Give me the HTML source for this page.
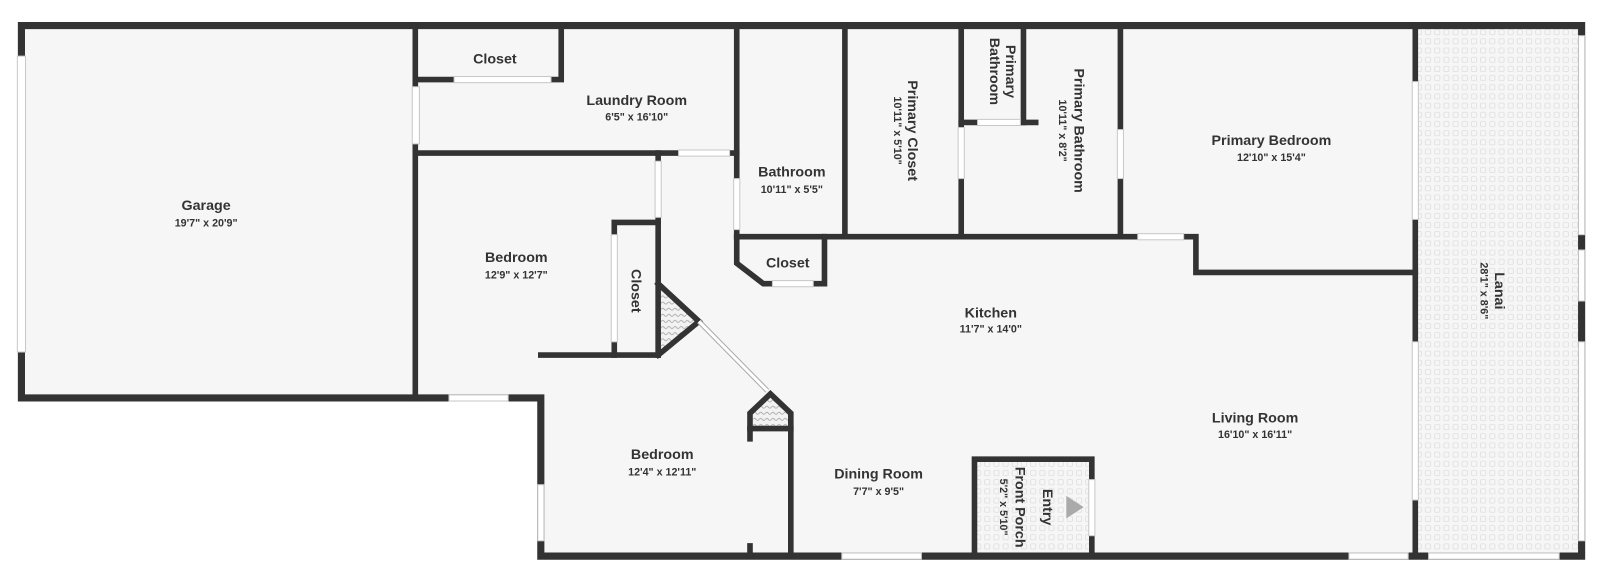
<!DOCTYPE html>
<html><head><meta charset="utf-8"><style>
html,body{margin:0;padding:0;background:#fff;width:1600px;height:580px;overflow:hidden}
svg{display:block}
text{font-family:"Liberation Sans","DejaVu Sans",sans-serif;fill:#333;text-anchor:middle}
.n{font-size:14px;font-weight:bold}
.d{font-size:10.5px;font-weight:bold}
</style></head><body>
<svg width="1600" height="580" viewBox="0 0 1600 580" xmlns="http://www.w3.org/2000/svg">
<defs>
<pattern id="tile" width="9" height="9" patternUnits="userSpaceOnUse">
<rect width="9" height="9" fill="#f6f6f6"/>
<rect x="2" y="2" width="5" height="5" rx="1" fill="none" stroke="#dedede" stroke-width="0.8"/>
</pattern>
<pattern id="hatch" width="6" height="6" patternUnits="userSpaceOnUse">
<rect width="6" height="6" fill="#f2f2f2"/>
<path d="M0 3 Q1.5 1 3 3 T6 3" fill="none" stroke="#999" stroke-width="0.7"/>
</pattern>
</defs>
<g transform="scale(1.0204)">
<rect x="21" y="25" width="1366" height="365" fill="#f6f6f6"/>
<rect x="530" y="348" width="1020" height="197" fill="#f6f6f6"/>
<rect x="1387" y="25" width="163" height="520" fill="url(#tile)"/>
<rect x="955" y="452" width="113" height="93" fill="url(#tile)"/>
<polygon points="645,278 685,315 645,348" fill="url(#hatch)"/>
<polygon points="738,405 755,388 773,405 773,418 738,418" fill="url(#hatch)"/>
<g stroke="#333" stroke-width="7" fill="none" stroke-linecap="square">
<path d="M21 25 H1550 V545 H530 V390 H21 Z"/>
</g>
<g stroke="#333" stroke-width="5.5" fill="none" stroke-linecap="square">
<line x1="407" y1="25" x2="407" y2="390"/>
<path d="M407 78 H550 V25"/>
<line x1="407" y1="150" x2="722" y2="150"/>
<line x1="722" y1="25" x2="722" y2="232"/>
<line x1="828" y1="25" x2="828" y2="232"/>
<path d="M722 232 H1172 V267 H1387"/>
<path d="M722 232 V258 L748 278 H808 V232"/>
<line x1="942" y1="25" x2="942" y2="232"/>
<path d="M942 120 H1015"/>
<line x1="1003" y1="25" x2="1003" y2="120"/>
<line x1="1098" y1="25" x2="1098" y2="232"/>
<line x1="1387" y1="25" x2="1387" y2="545"/>
<line x1="645" y1="150" x2="645" y2="348"/>
<path d="M602 348 V218 H645"/>
<line x1="530" y1="348" x2="645" y2="348"/>
<path d="M645 278 L685 315 L645 348"/>
<path d="M735 430 V405 L755 386 L775 405 V545"/>
<line x1="735" y1="420" x2="775" y2="420"/>
<line x1="735" y1="535" x2="735" y2="545"/>
<path d="M955 545 V450 H1070 V545"/>
</g>
<line x1="685" y1="315" x2="752" y2="383" stroke="#aaa" stroke-width="5"/>
<line x1="685" y1="315" x2="752" y2="383" stroke="#fff" stroke-width="3"/>
<g fill="#fff" stroke="#c8c8c8" stroke-width="1">
<rect x="17" y="55" width="8" height="290"/>
<rect x="404" y="85" width="7" height="56"/>
<rect x="445" y="75" width="95" height="6"/>
<rect x="665" y="147" width="50" height="6"/>
<rect x="642" y="158" width="6" height="55"/>
<rect x="599" y="230" width="6" height="105"/>
<rect x="719" y="175" width="6" height="50"/>
<rect x="757" y="275" width="40" height="6"/>
<rect x="939" y="125" width="6" height="50"/>
<rect x="958" y="117" width="42" height="6"/>
<rect x="1095" y="127" width="6" height="48"/>
<rect x="1115" y="229" width="45" height="6"/>
<rect x="1384" y="80" width="6" height="135"/>
<rect x="1384" y="335" width="6" height="155"/>
<rect x="1547" y="35" width="6" height="195"/>
<rect x="1547" y="245" width="6" height="50"/>
<rect x="1547" y="335" width="6" height="195"/>
<rect x="440" y="387" width="58" height="6"/>
<rect x="527" y="475" width="6" height="55"/>
<rect x="825" y="542" width="78" height="6"/>
<rect x="1322" y="542" width="58" height="6"/>
<rect x="1400" y="542" width="128" height="6"/>
<rect x="1067" y="470" width="6" height="55"/>
</g>
<polygon points="1045,486 1062,497 1045,508" fill="#aaa"/>
<text class="n" x="202" y="206">Garage</text><text class="d" x="202" y="222">19'7" x 20'9"</text>
<text class="n" x="485" y="62">Closet</text>
<text class="n" x="624" y="103">Laundry Room</text><text class="d" x="624" y="118">6'5" x 16'10"</text>
<text class="n" x="776" y="173">Bathroom</text><text class="d" x="776" y="189">10'11" x 5'5"</text>
<text class="n" x="772" y="262">Closet</text>
<text class="n" x="506" y="257">Bedroom</text><text class="d" x="506" y="273">12'9" x 12'7"</text>
<text class="n" transform="translate(619,285) rotate(90)">Closet</text>
<text class="n" transform="translate(890,128) rotate(90)">Primary Closet</text>
<text class="d" transform="translate(876,128) rotate(90)">10'11" x 5'10"</text>
<text class="n" transform="translate(986,70) rotate(90)">Primary</text>
<text class="n" transform="translate(970,70) rotate(90)">Bathroom</text>
<text class="n" transform="translate(1053,128) rotate(90)">Primary Bathroom</text>
<text class="d" transform="translate(1038,128) rotate(90)">10'11" x 8'2"</text>
<text class="n" x="1246" y="142">Primary Bedroom</text><text class="d" x="1246" y="158">12'10" x 15'4"</text>
<text class="n" x="971" y="311">Kitchen</text><text class="d" x="971" y="326">11'7" x 14'0"</text>
<text class="n" x="1230" y="414">Living Room</text><text class="d" x="1230" y="429">16'10" x 16'11"</text>
<text class="n" x="649" y="450">Bedroom</text><text class="d" x="649" y="466">12'4" x 12'11"</text>
<text class="n" x="861" y="469">Dining Room</text><text class="d" x="861" y="485">7'7" x 9'5"</text>
<text class="n" transform="translate(1022,497) rotate(90)">Entry</text>
<text class="n" transform="translate(995,497) rotate(90)">Front Porch</text>
<text class="d" transform="translate(980,497) rotate(90)">5'2" x 5'10"</text>
<text class="n" transform="translate(1465,285) rotate(90)">Lanai</text>
<text class="d" transform="translate(1451,285) rotate(90)">28'1" x 8'6"</text>
</g>
</svg>
</body></html>
